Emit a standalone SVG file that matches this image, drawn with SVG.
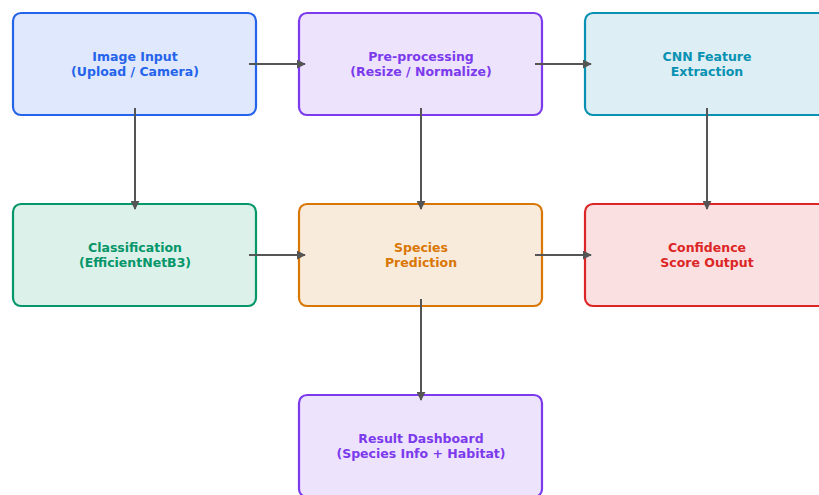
<svg xmlns="http://www.w3.org/2000/svg" width="819" height="495" viewBox="0 0 819 495">
<style>
.box{stroke-width:2.2}
.t{font-family:"DejaVu Sans",sans-serif;font-weight:bold;font-size:12.5px;text-anchor:middle}
.c{stroke:#555;stroke-width:2;fill:none;marker-end:url(#ah)}
</style>
<defs>
<marker id="ah" viewBox="0 0 10 10" refX="9" refY="5" markerWidth="4.5" markerHeight="4.5" orient="auto" markerUnits="strokeWidth">
<path d="M0,0 L10,5 L0,10 z" fill="#555"/>
</marker>
</defs>
<rect width="819" height="495" fill="#fff"/>
<g id="image-input">
<rect class="box" x="13" y="13" width="243" height="102" rx="8" fill="#dfe8fc" stroke="#2563eb"/>
<text class="t" fill="#2563eb"><tspan x="135" y="61">Image Input</tspan><tspan x="135" y="76">(Upload / Camera)</tspan></text>
</g>
<g id="preprocessing">
<rect class="box" x="299" y="13" width="243" height="102" rx="8" fill="#ede3fc" stroke="#7c3aed"/>
<text class="t" fill="#7c3aed"><tspan x="421" y="61">Pre-processing</tspan><tspan x="421" y="76">(Resize / Normalize)</tspan></text>
</g>
<g id="cnn">
<rect class="box" x="585" y="13" width="243" height="102" rx="8" fill="#ddeef4" stroke="#0891b2"/>
<text class="t" fill="#0891b2"><tspan x="707" y="61">CNN Feature</tspan><tspan x="707" y="76">Extraction</tspan></text>
</g>
<g id="classification">
<rect class="box" x="13" y="204" width="243" height="102" rx="8" fill="#dcf1e9" stroke="#059669"/>
<text class="t" fill="#059669"><tspan x="135" y="252">Classification</tspan><tspan x="135" y="267">(EfficientNetB3)</tspan></text>
</g>
<g id="species-prediction">
<rect class="box" x="299" y="204" width="243" height="102" rx="8" fill="#f9ebdc" stroke="#d97706"/>
<text class="t" fill="#d97706"><tspan x="421" y="252">Species</tspan><tspan x="421" y="267">Prediction</tspan></text>
</g>
<g id="confidence">
<rect class="box" x="585" y="204" width="243" height="102" rx="8" fill="#fae0e0" stroke="#dc2626"/>
<text class="t" fill="#dc2626"><tspan x="707" y="252">Confidence</tspan><tspan x="707" y="267">Score Output</tspan></text>
</g>
<g id="result-dashboard">
<rect class="box" x="299" y="395" width="243" height="102" rx="8" fill="#ede3fc" stroke="#7c3aed"/>
<text class="t" fill="#7c3aed"><tspan x="421" y="443">Result Dashboard</tspan><tspan x="421" y="458">(Species Info + Habitat)</tspan></text>
</g>
<g id="connectors">
<line class="c" x1="249" y1="64" x2="305" y2="64"/>
<line class="c" x1="535" y1="64" x2="591" y2="64"/>
<line class="c" x1="135" y1="108" x2="135" y2="209"/>
<line class="c" x1="421" y1="108" x2="421" y2="209"/>
<line class="c" x1="707" y1="108" x2="707" y2="209"/>
<line class="c" x1="249" y1="255" x2="305" y2="255"/>
<line class="c" x1="535" y1="255" x2="591" y2="255"/>
<line class="c" x1="421" y1="299" x2="421" y2="400"/>
</g>
</svg>
